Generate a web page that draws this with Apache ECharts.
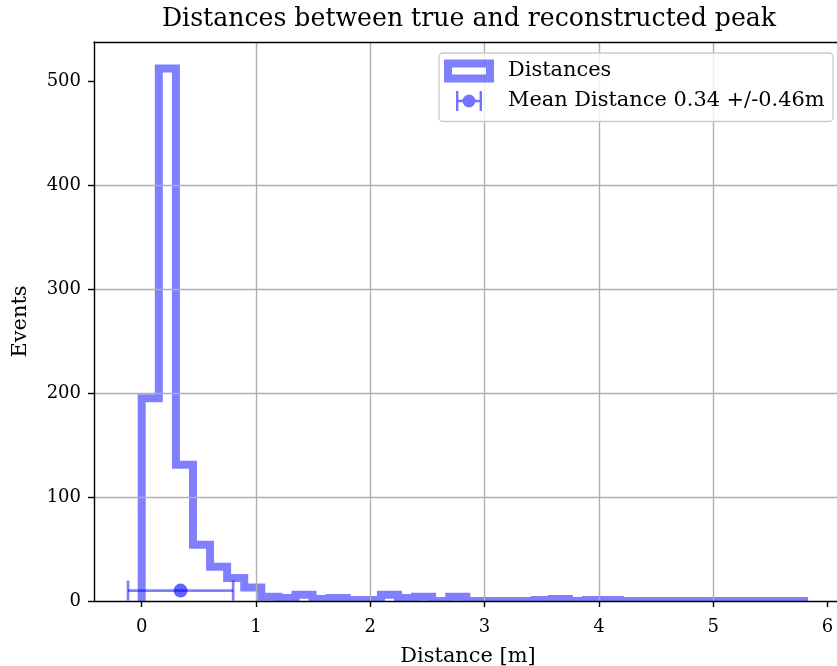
<!DOCTYPE html>
<html>
<head>
<meta charset="utf-8">
<script src="https://cdn.jsdelivr.net/npm/echarts@6/dist/echarts.min.js"></script>
<style>
  html, body { margin: 0; padding: 0; background: #ffffff; }
  #chart { width: 837px; height: 666px; }
</style>
</head>
<body>
<div id="chart"></div>
<script>
// Histogram of distances (m) between true and reconstructed peak positions
const binStart = 0;
const binWidth = 0.1495;
const binCounts = [
  195, 512, 131, 54, 33, 22, 13, 4, 3, 6,
  2, 3, 1, 1, 6, 3, 4, 0, 4, 0,
  0, 0, 0, 1, 2, 0, 1, 1, 0, 0,
  0, 0, 0, 0, 0, 0, 0, 0, 0
];

// Mean distance with its spread, drawn as a horizontal error bar
const meanDistance = 0.34;
const meanSpread = 0.46;
const meanMarkerLevel = 10;

const xTicks = [0, 1, 2, 3, 4, 5, 6];
const yTicks = [0, 100, 200, 300, 400, 500];

const histName = 'Distances';
const meanName = 'Mean Distance 0.34 +/-0.46m';

// Step outline of the histogram: up at the first edge, across each bin, down at the last edge
const stepOutline = [[binStart, 0]];
binCounts.forEach((count, i) => {
  const left = binStart + i * binWidth;
  stepOutline.push([left, count], [left + binWidth, count]);
});
stepOutline.push([binStart + binCounts.length * binWidth, 0]);

const FONT = 'DejaVu Serif';
const HIST_COLOR = 'rgba(0,0,255,0.5)';
const X_RANGE = [-0.4175, 6.1275];

const chart = echarts.init(document.getElementById('chart'), null, { renderer: 'canvas' });

const axisLineStyle = { color: '#000', width: 1.4 };
const tickStyle = { show: true, inside: false, length: 6, lineStyle: { color: '#000', width: 1.4 } };
const gridLineStyle = { show: true, showMinLine: false, showMaxLine: false, lineStyle: { color: '#b0b0b0', width: 1.4 } };
const labelFont = { fontFamily: FONT, fontSize: 18, color: '#000' };
const nameFont = { fontFamily: FONT, fontSize: 20.9, color: '#000' };

chart.setOption({
  animation: false,
  backgroundColor: '#ffffff',
  textStyle: { fontFamily: FONT },
  title: {
    text: 'Distances between true and reconstructed peak',
    left: 469,
    textAlign: 'center',
    top: 7,
    padding: 0,
    textStyle: { fontFamily: FONT, fontSize: 25.2, fontWeight: 'normal', color: '#000' }
  },
  grid: {
    left: 94, top: 42, right: -5, bottom: 65,
    containLabel: false,
    outerBoundsMode: 'none',
    show: false
  },
  legend: {
    orient: 'vertical',
    left: 439,
    top: 53,
    padding: [6.5, 8.5, 9, 5],
    itemGap: 7,
    itemWidth: 59,
    itemHeight: 23,
    backgroundColor: 'rgba(255,255,255,0.8)',
    borderColor: '#cccccc',
    borderWidth: 1.3,
    borderRadius: 4,
    itemStyle: { borderWidth: 0 },
    textStyle: { fontFamily: FONT, fontSize: 20.9, lineHeight: 23, color: '#000' },
    selectedMode: false,
    data: [
      {
        name: histName,
        icon: 'path://M0 0H50V23H0Z M8 8V15H42V8Z M59 23L59 23',
        itemStyle: { color: HIST_COLOR }
      },
      {
        name: meanName,
        icon: 'path://M0 0L0 0 M12 1.5H14.4V21.5H12Z M35.6 1.5H38V21.5H35.6Z M14.4 10.3H18.6V12.7H14.4Z M31.4 10.3H35.6V12.7H31.4Z M18.5 11.5A6.5 6.5 0 1 1 31.5 11.5A6.5 6.5 0 1 1 18.5 11.5Z M59 23L59 23',
        itemStyle: { color: 'rgba(0,0,255,0.55)' }
      }
    ]
  },
  xAxis: [
    {
      type: 'value',
      position: 'bottom',
      z: 3,
      min: X_RANGE[0],
      max: X_RANGE[1],
      name: 'Distance [m]',
      nameLocation: 'middle',
      nameGap: 45,
      nameTextStyle: nameFont,
      axisLine: { show: true, onZero: false, lineStyle: axisLineStyle },
      axisTick: Object.assign({}, tickStyle, { customValues: xTicks }),
      axisLabel: Object.assign({ customValues: xTicks, margin: 17 }, labelFont),
      splitLine: gridLineStyle
    },
    {
      // top frame line of the plotting area
      type: 'value',
      position: 'top',
      z: 3,
      min: X_RANGE[0],
      max: X_RANGE[1],
      axisLine: { show: true, onZero: false, lineStyle: axisLineStyle },
      axisTick: { show: false },
      axisLabel: { show: false },
      splitLine: { show: false }
    }
  ],
  yAxis: {
    type: 'value',
    z: 3,
    min: 0,
    max: 537.6,
    name: 'Events',
    nameLocation: 'middle',
    nameGap: 63,
    nameRotate: 90,
    nameTextStyle: nameFont,
    axisLine: { show: true, onZero: false, lineStyle: axisLineStyle },
    axisTick: Object.assign({}, tickStyle, { customValues: yTicks }),
    axisLabel: Object.assign({ customValues: yTicks, margin: 13 }, labelFont),
    splitLine: gridLineStyle
  },
  series: [
    {
      // histogram outline drawn as a single stepped polyline
      name: histName,
      type: 'custom',
      xAxisIndex: 0,
      z: 2,
      clip: true,
      itemStyle: { color: HIST_COLOR },
      data: stepOutline,
      renderItem: function (params, api) {
        if (params.dataIndex !== 0) return null;
        const points = stepOutline.map(p => api.coord(p));
        return {
          type: 'polyline',
          shape: { points: points },
          style: { stroke: HIST_COLOR, lineWidth: 8, fill: null, lineJoin: 'miter', lineCap: 'butt' }
        };
      }
    },
    {
      name: meanName,
      type: 'custom',
      xAxisIndex: 0,
      z: 5,
      clip: false,
      itemStyle: { color: 'rgba(0,0,255,0.55)' },
      data: [[meanDistance, meanMarkerLevel, meanSpread]],
      renderItem: function (params, api) {
        const x = api.value(0);
        const y = api.value(1);
        const err = api.value(2);
        const left = api.coord([x - err, y]);
        const right = api.coord([x + err, y]);
        const center = api.coord([x, y]);
        const cap = 10;
        const barStyle = { stroke: 'rgba(0,0,255,0.5)', lineWidth: 2.7, fill: null };
        return {
          type: 'group',
          children: [
            { type: 'line', shape: { x1: left[0], y1: left[1], x2: right[0], y2: right[1] }, style: barStyle },
            { type: 'line', shape: { x1: left[0], y1: left[1] - cap, x2: left[0], y2: left[1] + cap }, style: barStyle },
            { type: 'line', shape: { x1: right[0], y1: right[1] - cap, x2: right[0], y2: right[1] + cap }, style: barStyle },
            { type: 'circle', shape: { cx: center[0], cy: center[1], r: 7 }, style: { fill: 'rgba(0,0,255,0.62)' } }
          ]
        };
      }
    }
  ]
});
</script>
</body>
</html>
